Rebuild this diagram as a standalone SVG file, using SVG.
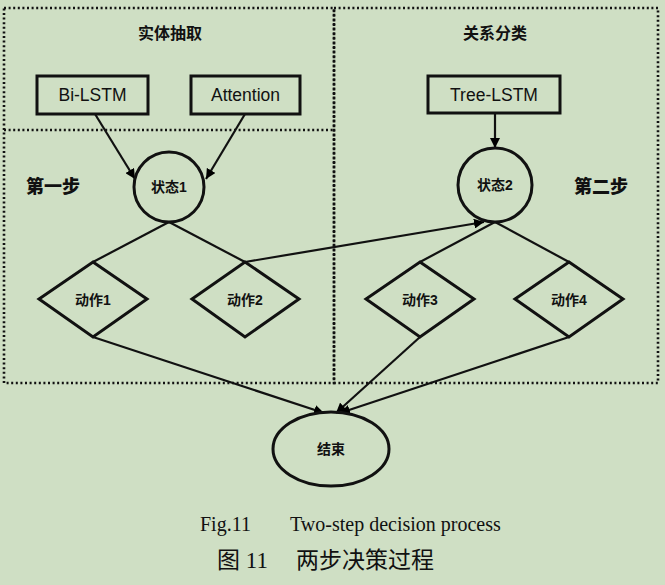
<svg xmlns="http://www.w3.org/2000/svg" width="665" height="585" viewBox="0 0 665 585">
<defs>
<marker id="arr" viewBox="0 0 10 10" refX="10" refY="5" markerWidth="10" markerHeight="10" markerUnits="userSpaceOnUse" orient="auto">
<path d="M0,0 L10,5 L0,10 z" fill="#000"/>
</marker>
<style>
.dot{fill:none;stroke:#111;stroke-width:2.6;stroke-dasharray:2 2.6}
.box{fill:none;stroke:#111;stroke-width:3}
.shape{fill:none;stroke:#111;stroke-width:3}
.lbl{font-family:"Liberation Sans","Noto Sans CJK SC",sans-serif;font-size:14px;font-weight:bold;fill:#111;text-anchor:middle;dominant-baseline:central}
.ttl{font-size:16px}
.en{font-family:"Liberation Sans",sans-serif;font-size:17.5px;fill:#111;text-anchor:middle;dominant-baseline:central}
.step{font-family:"Noto Sans CJK SC",sans-serif;font-size:18px;font-weight:900;fill:#111;text-anchor:middle;dominant-baseline:central}
.cap{font-family:"Liberation Serif","Noto Sans CJK SC",serif;font-size:20px;fill:#111}
.capzh{font-family:"Liberation Serif","Noto Sans CJK SC",serif;font-size:23px;fill:#111}
.edge{fill:none;stroke:#111;stroke-width:2.2}
</style>
</defs>
<rect width="665" height="585" fill="#cfdfc4"/>
<g id="regions">
<rect class="dot" x="4" y="8" width="330" height="375"/>
<line class="dot" x1="4" y1="130" x2="334" y2="130"/>
<rect class="dot" x="334" y="8" width="324" height="375"/>
<text class="lbl ttl" x="170" y="33">实体抽取</text>
<text class="lbl ttl" x="495" y="33">关系分类</text>
<text class="step" x="53" y="185">第一步</text>
<text class="step" x="601" y="185">第二步</text>
</g>
<g id="connectors">
<line class="edge" x1="95" y1="114" x2="135" y2="179" marker-end="url(#arr)"/>
<line class="edge" x1="245" y1="114" x2="206" y2="179" marker-end="url(#arr)"/>
<line class="edge" x1="495" y1="113" x2="495" y2="148" marker-end="url(#arr)"/>
<line class="edge" x1="169" y1="222" x2="93" y2="262"/>
<line class="edge" x1="169" y1="222" x2="245" y2="262"/>
<line class="edge" x1="245" y1="262" x2="484" y2="222" marker-end="url(#arr)"/>
<line class="edge" x1="495" y1="222" x2="420" y2="262"/>
<line class="edge" x1="495" y1="222" x2="569" y2="262"/>
<line class="edge" x1="93" y1="337" x2="324" y2="413" marker-end="url(#arr)"/>
<line class="edge" x1="420" y1="337" x2="336" y2="413" marker-end="url(#arr)"/>
<line class="edge" x1="569" y1="337" x2="340" y2="413" marker-end="url(#arr)"/>
</g>
<g id="bilstm"><rect class="box" x="37" y="76" width="111" height="38"/><text class="en" x="92.5" y="95">Bi-LSTM</text></g>
<g id="attention"><rect class="box" x="191" y="76" width="109" height="38"/><text class="en" x="245.5" y="95">Attention</text></g>
<g id="treelstm"><rect class="box" x="428" y="76" width="132" height="37"/><text class="en" x="494" y="95">Tree-LSTM</text></g>
<g id="state1"><ellipse class="shape" cx="169" cy="187" rx="35" ry="35"/><text class="lbl" x="169" y="187">状态1</text></g>
<g id="state2"><ellipse class="shape" cx="495" cy="185" rx="37" ry="37"/><text class="lbl" x="495" y="185">状态2</text></g>
<g id="action1"><polygon class="shape" points="93,262 147,299 93,337 39,299"/><text class="lbl" x="93" y="300">动作1</text></g>
<g id="action2"><polygon class="shape" points="245,262 299,299 245,337 192,299"/><text class="lbl" x="245" y="300">动作2</text></g>
<g id="action3"><polygon class="shape" points="420,262 474,299 420,337 366,299"/><text class="lbl" x="420" y="300">动作3</text></g>
<g id="action4"><polygon class="shape" points="569,262 623,299 569,337 515,299"/><text class="lbl" x="569" y="300">动作4</text></g>
<g id="end"><ellipse class="shape" cx="331" cy="449" rx="58" ry="37"/><text class="lbl" x="331" y="449">结束</text></g>
<g id="caption">
<text class="cap" x="200" y="531">Fig.11</text>
<text class="cap" x="290" y="531">Two-step decision process</text>
<text class="capzh" x="217" y="568">图 11</text>
<text class="capzh" x="296" y="568">两步决策过程</text>
</g>
</svg>
